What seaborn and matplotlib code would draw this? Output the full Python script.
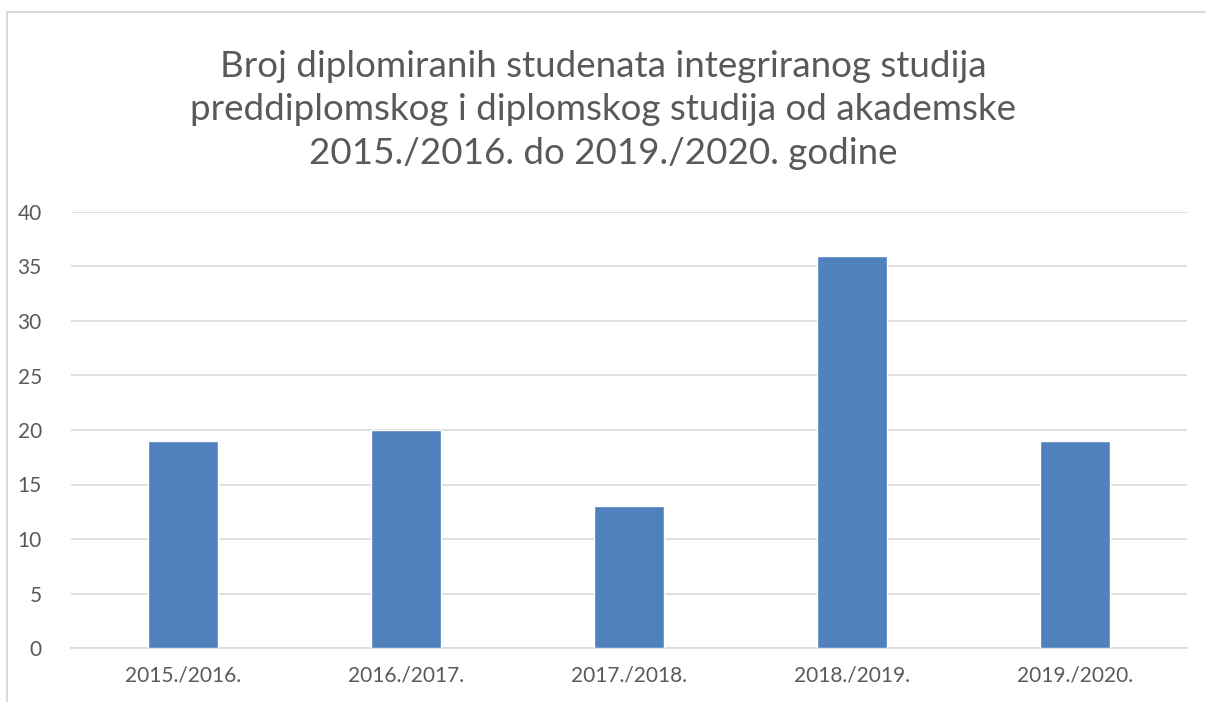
import matplotlib
matplotlib.use("Agg")
import matplotlib.pyplot as plt
import seaborn as sns
import pandas as pd
from matplotlib.patches import Rectangle

categories = ["2015./2016.", "2016./2017.", "2017./2018.", "2018./2019.", "2019./2020."]
values = [19, 20, 13, 36, 19]
yticks = [0, 5, 10, 15, 20, 25, 30, 35, 40]
title = ("Broj diplomiranih studenata integriranog studija\n"
         "preddiplomskog i diplomskog studija od akademske\n"
         "2015./2016. do 2019./2020. godine")

sns.set_theme(style="white")
plt.rcParams['font.family'] = ['Lato', 'DejaVu Sans']

text_color = "#595959"
grid_color = "#d9d9d9"
bar_color = "#4f81bd"

fig = plt.figure(figsize=(12.06, 7.02), dpi=100)
ax = fig.add_axes([71/1206, 1 - 648/702, (1187 - 71)/1206, (648 - 212)/702])

df = pd.DataFrame({"cat": categories, "val": values})
sns.barplot(data=df, x="cat", y="val", color=bar_color, saturation=1,
            width=0.314, ax=ax, zorder=3)

ax.set_ylim(0, 40)
ax.set_yticks(yticks)
ax.set_yticklabels([str(t) for t in yticks])
ax.set_xlim(-0.5, len(categories) - 0.5)
ax.yaxis.grid(True, color=grid_color, linewidth=1.2, zorder=0)
ax.xaxis.grid(False)
for s in ["top", "right", "left"]:
    ax.spines[s].set_visible(False)
ax.spines["bottom"].set_color(grid_color)
ax.spines["bottom"].set_linewidth(1.2)
ax.set_xlabel("")
ax.set_ylabel("")
ax.tick_params(axis="both", length=0, colors=text_color, labelsize=15)
ax.tick_params(axis="y", pad=21)
ax.tick_params(axis="x", pad=12.5)
for lbl in ax.get_yticklabels():
    lbl.set_horizontalalignment("right")

fig.text(0.5, 1 - 110/702, title, ha="center", va="center", fontsize=26.5,
         color=text_color, linespacing=1.4)

# chart area border
fig.patches.append(Rectangle((7/1206, -0.1), 1.2, 1 - 12/702 + 0.1,
                             transform=fig.transFigure, fill=False,
                             edgecolor=grid_color, linewidth=1.5))

fig.savefig("out.png", dpi=100)
